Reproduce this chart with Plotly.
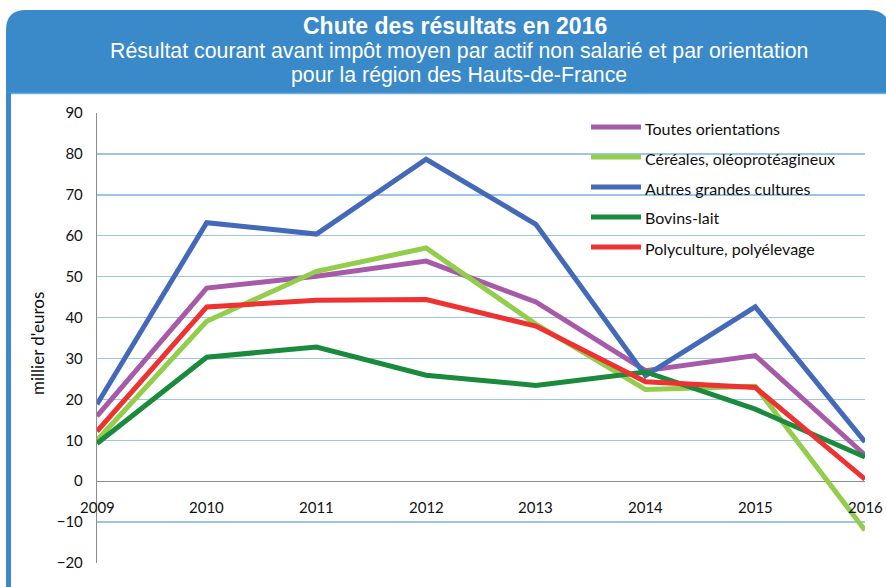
import plotly.graph_objects as go

years = ["2009", "2010", "2011", "2012", "2013", "2014", "2015", "2016"]
series_names = ["Toutes orientations", "Céréales, oléoprotéagineux", "Autres grandes cultures",
                "Bovins-lait", "Polyculture, polyélevage"]
toutes = [15.9, 47.2, 50.1, 53.8, 43.8, 27.0, 30.7, 6.4]
cereales = [10.0, 39.1, 51.3, 57.0, 38.4, 22.4, 23.2, -12.0]
autres = [18.8, 63.2, 60.4, 78.7, 62.8, 25.8, 42.6, 9.6]
bovins = [9.2, 30.3, 32.8, 25.9, 23.4, 26.7, 17.6, 5.9]
poly = [12.2, 42.6, 44.2, 44.4, 37.9, 24.3, 22.9, 0.5]
series_values = [toutes, cereales, autres, bovins, poly]
colors = ["#A65AA8", "#92CD4C", "#4469B8", "#1A8A3C", "#EE3131"]
y_ticks = [-20, -10, 0, 10, 20, 30, 40, 50, 60, 70, 80, 90]

W, H = 886, 587
L, R, T, B = 97, 865, 113, 563
CF = "Lato, Carlito, Calibri, sans-serif"
AF = "Liberation Sans, Arial, sans-serif"


def px(X):
    return (X - L) / (R - L)


def py(Y):
    return (B - Y) / (B - T)


xs = list(range(len(years)))
fig = go.Figure()
for name, vals, col in zip(series_names, series_values, colors):
    fig.add_trace(go.Scatter(x=xs, y=vals, mode="lines", name=name,
                             line=dict(color=col, width=5), showlegend=False,
                             cliponaxis=False, hoverinfo="skip"))

shapes = []
HC = "#3A89C9"
# header
path = (f"M{px(6)},{py(93)} L{px(6)},{py(30)} Q{px(6)},{py(10)} {px(26)},{py(10)} "
        f"L{px(868)},{py(10)} Q{px(890)},{py(10)} {px(890)},{py(32)} L{px(890)},{py(93)} Z")
shapes.append(dict(type="path", path=path, xref="paper", yref="paper",
                   fillcolor=HC, line=dict(width=0), layer="below"))
shapes.append(dict(type="line", xref="paper", yref="paper", x0=px(6), x1=px(890),
                   y0=py(93.5), y1=py(93.5), line=dict(color="#6FAEDF", width=1.5), layer="below"))
shapes.append(dict(type="rect", xref="paper", yref="paper", x0=px(6), x1=px(11),
                   y0=py(93), y1=py(600), fillcolor=HC, line=dict(width=0), layer="below"))
# legend background
shapes.append(dict(type="rect", xref="paper", yref="paper", x0=px(541), x1=px(890),
                   y0=py(104), y1=py(266), fillcolor="white", line=dict(width=0), layer="between"))

annotations = []
for i, (name, col) in enumerate(zip(series_names, colors)):
    yy = 127 + 30 * i
    shapes.append(dict(type="line", xref="paper", yref="paper", x0=px(591), x1=px(641),
                       y0=py(yy), y1=py(yy), line=dict(color=col, width=5), layer="above"))
    annotations.append(dict(text=name, xref="paper", yref="paper", x=px(643), y=py(yy + 1),
                            xanchor="left", yanchor="middle", showarrow=False,
                            font=dict(family=CF, size=16, color="#111")))

for i, yl in enumerate(years):
    annotations.append(dict(text=yl, x=i, y=0, xref="x", yref="y", yshift=-26,
                            xanchor="center", yanchor="middle", showarrow=False,
                            font=dict(family=CF, size=15, color="#111")))

annotations.append(dict(text="millier d'euros", xref="paper", yref="paper", x=px(37), y=py(344),
                        textangle=-90, xanchor="center", yanchor="middle", showarrow=False,
                        font=dict(family=CF, size=17, color="#111")))

annotations.append(dict(text="<b>Chute des résultats en 2016</b>", xref="paper", yref="paper",
                        x=px(455), y=py(26), xanchor="center", yanchor="middle", showarrow=False,
                        font=dict(family=AF, size=23, color="white")))
annotations.append(dict(text="Résultat courant avant impôt moyen par actif non salarié et par orientation",
                        xref="paper", yref="paper", x=px(459), y=py(51), xanchor="center",
                        yanchor="middle", showarrow=False, font=dict(family=AF, size=21.3, color="white")))
annotations.append(dict(text="pour la région des Hauts-de-France",
                        xref="paper", yref="paper", x=px(459), y=py(75), xanchor="center",
                        yanchor="middle", showarrow=False, font=dict(family=AF, size=21.3, color="white")))

fig.update_layout(
    width=W, height=H,
    margin=dict(l=L, r=W - R, t=T, b=H - B),
    paper_bgcolor="white", plot_bgcolor="white",
    shapes=shapes, annotations=annotations,
    hovermode=False,
    xaxis=dict(range=[0, len(years) - 1], showgrid=False, showticklabels=False,
               zeroline=False, showline=False, fixedrange=True),
    yaxis=dict(range=[-20, 90], tickvals=y_ticks, showgrid=True, gridcolor="#9CC5EA",
               gridwidth=1.5, zeroline=True, zerolinecolor="#8C8C8C", zerolinewidth=1.2,
               showline=True, linecolor="#8C8C8C", linewidth=1.2, ticks="",
               ticklabelstandoff=10, fixedrange=True,
               tickfont=dict(family=CF, size=15, color="#111")),
)

fig.write_html("out.html",
               config={"displayModeBar": False, "staticPlot": True},
               post_script="document.body.style.margin='0';"
                           "document.documentElement.style.overflow='hidden';"
                           "document.body.style.overflow='hidden';")
